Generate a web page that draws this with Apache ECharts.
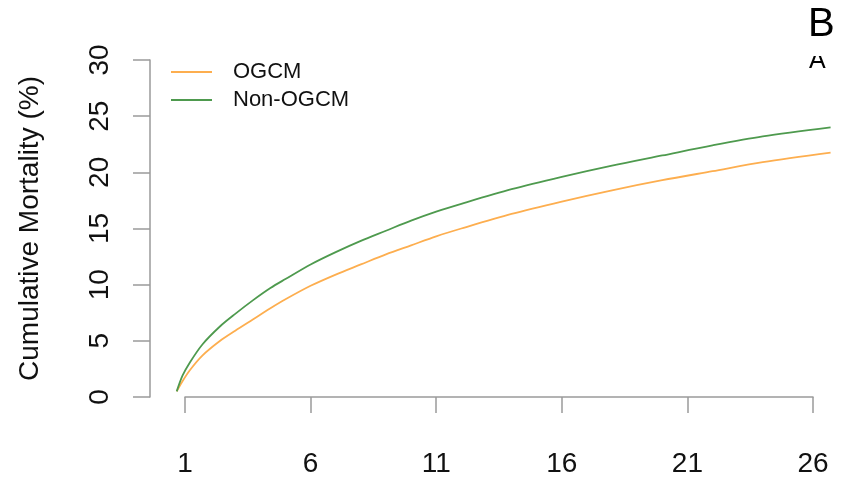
<!DOCTYPE html>
<html>
<head>
<meta charset="utf-8">
<script src="https://cdn.jsdelivr.net/npm/echarts@6/dist/echarts.min.js"></script>
<style>
  html, body { margin: 0; padding: 0; background: #fff; }
  #chart { width: 843px; height: 478px; }
</style>
</head>
<body>
<div id="chart"></div>
<script>
// time points (x) and cumulative mortality (%)
var times     = [0.67, 0.9, 1.2, 1.7, 2.4, 3, 3.7, 4.4, 5, 6, 7, 8, 9, 10, 11, 12, 14, 16, 18, 20, 22, 24, 26.7];
var ogcm      = [0.5, 1.4, 2.4, 3.7, 5.0, 5.9, 6.9, 7.9, 8.7, 9.9, 10.9, 11.8, 12.7, 13.5, 14.3, 15.0, 16.3, 17.4, 18.4, 19.3, 20.1, 20.9, 21.75];
var nonOgcm   = [0.5, 1.9, 3.1, 4.7, 6.3, 7.4, 8.6, 9.7, 10.5, 11.8, 12.9, 13.9, 14.8, 15.7, 16.5, 17.2, 18.5, 19.6, 20.6, 21.5, 22.4, 23.2, 24.0];
var seriesNames = ['OGCM', 'Non-OGCM'];
var colors = ['#FDAE4F', '#4E9A4E'];

function pairs(xs, ys) {
    var out = [];
    for (var i = 0; i < xs.length; i++) {
        out.push([xs[i], ys[i]]);
    }
    return out;
}

var myChart = echarts.init(document.getElementById('chart'));
var font = "'Liberation Sans', Arial, sans-serif";
var axisGray = '#9a9a9a';

// grid 0 carries the curves (wider x range, axes hidden),
// grid 1 only draws the R-style axes from 1 to 26 (same pixel scale)
var option = {
    animation: false,
    textStyle: { fontFamily: font },
    legend: {
        data: seriesNames,
        orient: 'vertical',
        left: 166,
        top: 56,
        icon: 'rect',
        itemWidth: 41,
        itemHeight: 2,
        itemGap: 6,
        textStyle: { fontSize: 22, color: '#111', lineHeight: 22, padding: [0, 0, 0, 16], fontFamily: font }
    },
    grid: [
        { left: 172.44, right: 4.88, top: 60, bottom: 81 },
        { left: 185, right: 30, top: 60, bottom: 81 }
    ],
    xAxis: [
        {
            gridIndex: 0, type: 'value', min: 0.5, max: 27, show: false
        },
        {
            gridIndex: 1,
            type: 'value',
            min: 1,
            max: 26,
            interval: 5,
            offset: 15,
            axisLine: { show: true, lineStyle: { color: axisGray, width: 1.5 } },
            axisTick: { show: true, length: 16, lineStyle: { color: axisGray, width: 1.5 } },
            axisLabel: { fontSize: 28, color: '#111', margin: 38, fontFamily: font },
            splitLine: { show: false }
        }
    ],
    yAxis: [
        {
            gridIndex: 0, type: 'value', min: 0, max: 30, show: false
        },
        {
            gridIndex: 1,
            type: 'value',
            min: 0,
            max: 30,
            interval: 5,
            offset: 35,
            name: 'Cumulative Mortality (%)',
            nameLocation: 'middle',
            nameRotate: 90,
            nameGap: 106,
            nameTextStyle: { fontSize: 28, color: '#111', fontFamily: font },
            axisLine: { show: true, lineStyle: { color: axisGray, width: 1.5 } },
            axisTick: { show: true, length: 17, lineStyle: { color: axisGray, width: 1.5 } },
            axisLabel: { fontSize: 28, color: '#111', rotate: 90, margin: 36, fontFamily: font },
            splitLine: { show: false }
        }
    ],
    series: [
        {
            name: seriesNames[0],
            type: 'line',
            xAxisIndex: 0,
            yAxisIndex: 0,
            smooth: 0.3,
            symbol: 'none',
            lineStyle: { color: colors[0], width: 1.8 },
            itemStyle: { color: colors[0] },
            data: pairs(times, ogcm)
        },
        {
            name: seriesNames[1],
            type: 'line',
            xAxisIndex: 0,
            yAxisIndex: 0,
            smooth: 0.3,
            symbol: 'none',
            lineStyle: { color: colors[1], width: 1.8 },
            itemStyle: { color: colors[1] },
            data: pairs(times, nonOgcm)
        }
    ],
    graphic: [
        {
            type: 'text', left: 808, top: 5, z: 10,
            style: { text: 'B', fontSize: 40, fill: '#000', fontFamily: font }
        },
        {
            type: 'text', left: 809, top: 49, z: 10,
            style: { text: 'A', fontSize: 25, fill: '#000', fontFamily: font }
        },
        {
            type: 'rect', left: 800, top: 43, z: 11,
            shape: { width: 40, height: 13 },
            style: { fill: '#fff' }
        }
    ]
};

myChart.setOption(option);
</script>
</body>
</html>
